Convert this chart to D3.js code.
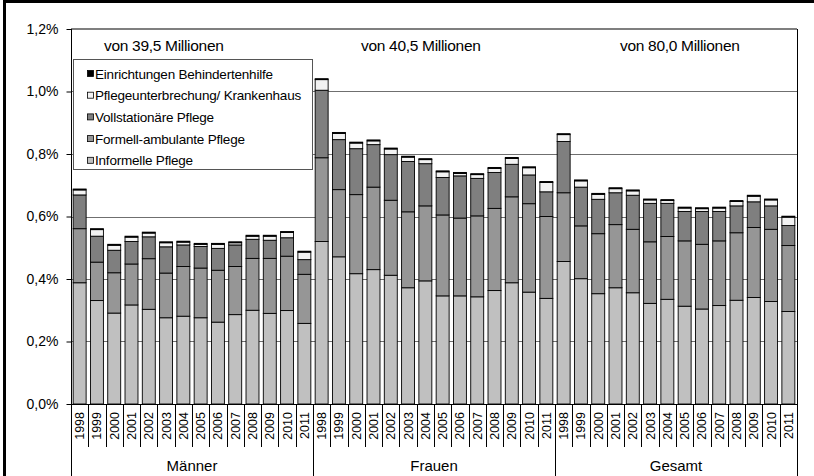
<!DOCTYPE html>
<html lang="de">
<head>
  <meta charset="UTF-8">
  <title>Pflegequote</title>
  <script src="https://d3js.org/d3.v7.min.js"></script>
  <style>
    body { margin: 0; background: #fff; }
    text { font-family: "Liberation Sans", Arial, sans-serif; fill: #000; }
    .grid line { stroke: #6f6f6f; stroke-width: 1; }
    .seg { stroke: #000; stroke-width: 0.9; }
  </style>
</head>
<body>
  <div id="chart"></div>
  <script>
    const groups = ["Männer", "Frauen", "Gesamt"];
    const groupTotals = ["von 39,5 Millionen", "von 40,5 Millionen", "von 80,0 Millionen"];
    const years = ["1998", "1999", "2000", "2001", "2002", "2003", "2004", "2005", "2006", "2007", "2008", "2009", "2010", "2011"];
    const yTicks = [0, 0.2, 0.4, 0.6, 0.8, 1.0, 1.2];

    // values in %, per group 14 years (Männer, Frauen, Gesamt)
    const informell = [
      0.388, 0.331, 0.291, 0.317, 0.303, 0.276, 0.281, 0.276, 0.262, 0.286, 0.300, 0.290, 0.299, 0.258,
      0.520, 0.471, 0.417, 0.430, 0.412, 0.372, 0.394, 0.346, 0.346, 0.343, 0.363, 0.388, 0.358, 0.338,
      0.456, 0.401, 0.353, 0.372, 0.356, 0.322, 0.335, 0.313, 0.304, 0.315, 0.332, 0.341, 0.328, 0.296
    ];
    const formell = [
      0.173, 0.123, 0.129, 0.131, 0.162, 0.143, 0.159, 0.159, 0.166, 0.154, 0.166, 0.176, 0.174, 0.157,
      0.268, 0.215, 0.253, 0.264, 0.240, 0.243, 0.240, 0.259, 0.249, 0.259, 0.263, 0.275, 0.283, 0.262,
      0.220, 0.169, 0.192, 0.202, 0.203, 0.197, 0.201, 0.209, 0.207, 0.207, 0.216, 0.224, 0.231, 0.211
    ];
    const vollstationaer = [
      0.108, 0.083, 0.072, 0.072, 0.070, 0.084, 0.069, 0.069, 0.070, 0.069, 0.061, 0.058, 0.059, 0.047,
      0.216, 0.160, 0.147, 0.136, 0.146, 0.161, 0.135, 0.120, 0.135, 0.120, 0.115, 0.104, 0.092, 0.079,
      0.164, 0.124, 0.110, 0.102, 0.109, 0.123, 0.106, 0.094, 0.105, 0.094, 0.086, 0.082, 0.075, 0.064
    ];
    const unterbrechung = [
      0.016, 0.021, 0.016, 0.014, 0.012, 0.013, 0.009, 0.007, 0.013, 0.007, 0.010, 0.013, 0.017, 0.024,
      0.034, 0.020, 0.018, 0.012, 0.018, 0.014, 0.013, 0.018, 0.008, 0.012, 0.013, 0.019, 0.023, 0.030,
      0.022, 0.020, 0.016, 0.013, 0.014, 0.011, 0.009, 0.011, 0.009, 0.011, 0.014, 0.018, 0.019, 0.027
    ];
    const behindertenhilfe = [
      0.003, 0.003, 0.003, 0.003, 0.003, 0.003, 0.003, 0.003, 0.003, 0.003, 0.003, 0.003, 0.003, 0.003,
      0.003, 0.003, 0.003, 0.003, 0.003, 0.003, 0.003, 0.003, 0.003, 0.003, 0.003, 0.003, 0.003, 0.003,
      0.003, 0.003, 0.003, 0.003, 0.003, 0.003, 0.003, 0.003, 0.003, 0.003, 0.003, 0.003, 0.003, 0.003
    ];

    const series = [
      { name: "Informelle Pflege", values: informell, color: "#c0c0c0" },
      { name: "Formell-ambulante Pflege", values: formell, color: "#969696" },
      { name: "Vollstationäre Pflege", values: vollstationaer, color: "#7f7f7f" },
      { name: "Pflegeunterbrechung/ Krankenhaus", values: unterbrechung, color: "#f2f2f2" },
      { name: "Einrichtungen  Behindertenhilfe", values: behindertenhilfe, color: "#000000" }
    ];

    const W = 814, H = 476;
    const plotLeft = 71, plotRight = 797, plotTop = 29, plotBottom = 404;

    const svg = d3.select("#chart").append("svg")
      .attr("width", W).attr("height", H);

    // build rows
    const keys = [];
    groups.forEach(g => years.forEach(y => keys.push(g + "|" + y)));
    const rows = keys.map((k, i) => {
      const r = { key: k, year: k.split("|")[1] };
      series.forEach((s, j) => r["s" + j] = s.values[i]);
      return r;
    });

    const x = d3.scaleBand().domain(keys).range([plotLeft, plotRight])
      .paddingInner(0.25).paddingOuter(0.125);
    const y = d3.scaleLinear().domain([0, 1.2]).range([plotBottom, plotTop]);

    // grid
    svg.append("g").attr("class", "grid")
      .selectAll("line").data(yTicks.filter(t => t > 0 && t < 1.2)).join("line")
      .attr("x1", plotLeft).attr("x2", plotRight)
      .attr("y1", d => Math.round(y(d)) + 0.5).attr("y2", d => Math.round(y(d)) + 0.5);

    // plot border top/right
    svg.append("line").attr("x1", plotLeft).attr("x2", plotRight)
      .attr("y1", y(1.2)).attr("y2", y(1.2))
      .attr("stroke", "#555").attr("stroke-width", 1.5);
    svg.append("line").attr("x1", plotRight + 0.5).attr("x2", plotRight + 0.5)
      .attr("y1", y(1.2)).attr("y2", plotBottom)
      .attr("stroke", "#000").attr("stroke-width", 1);

    // stacked bars
    const stack = d3.stack().keys(series.map((s, j) => "s" + j));
    const stacked = stack(rows);
    svg.append("g").selectAll("g").data(stacked).join("g")
      .attr("fill", (d, j) => series[j].color)
      .selectAll("rect").data(d => d).join("rect")
      .attr("class", "seg")
      .attr("x", d => x(d.data.key))
      .attr("width", x.bandwidth())
      .attr("y", d => y(d[1]))
      .attr("height", d => y(d[0]) - y(d[1]));

    // y axis
    const yAxis = svg.append("g").attr("transform", `translate(${plotLeft + 0.5},0)`)
      .call(d3.axisLeft(y).tickValues(yTicks).tickSize(5).tickSizeOuter(0)
        .tickFormat(d => d3.format(".1f")(d).replace(".", ",") + "%"));
    yAxis.select(".domain").remove();
    yAxis.selectAll(".tick line").attr("stroke", "#000");
    yAxis.selectAll("text").attr("font-size", 14).attr("x", -13)
      .style("font-family", "Liberation Sans, Arial, sans-serif");
    svg.append("line").attr("x1", plotLeft + 0.5).attr("x2", plotLeft + 0.5)
      .attr("y1", plotTop).attr("y2", H).attr("stroke", "#000");

    // x axis line
    svg.append("line").attr("x1", plotLeft).attr("x2", plotRight)
      .attr("y1", plotBottom + 0.5).attr("y2", plotBottom + 0.5).attr("stroke", "#000");

    // year separators
    const step = x.step();
    svg.append("g").selectAll("line").data(keys).join("line")
      .attr("x1", d => Math.round(x(d) - x.paddingOuter() * step + step) + 0.5)
      .attr("x2", d => Math.round(x(d) - x.paddingOuter() * step + step) + 0.5)
      .attr("y1", plotBottom)
      .attr("y2", (d, i) => (i + 1) % years.length === 0 ? H : 447)
      .attr("stroke", "#000").attr("stroke-width", 1);

    // year labels
    svg.append("g").selectAll("text").data(rows).join("text")
      .attr("transform", d => `translate(${x(d.key) + x.bandwidth() / 2 + 4.5},412) rotate(-90)`)
      .attr("text-anchor", "end")
      .attr("font-size", 12.5)
      .text(d => d.year);

    // group labels
    groups.forEach((g, gi) => {
      const a = x(g + "|" + years[0]), b = x(g + "|" + years[years.length - 1]) + x.bandwidth();
      svg.append("text").attr("x", (a + b) / 2).attr("y", 471)
        .attr("text-anchor", "middle").attr("font-size", 15).text(g);
    });

    // header totals
    const headX = [104, 361, 620];
    groupTotals.forEach((t, i) => {
      svg.append("text").attr("x", headX[i]).attr("y", 50.5)
        .attr("font-size", 15.5).attr("letter-spacing", -0.3).text(t);
    });

    // legend
    const lg = svg.append("g").attr("transform", "translate(73.5,59.5)");
    lg.append("rect").attr("width", 239).attr("height", 110)
      .attr("fill", "#fff").attr("stroke", "#555").attr("stroke-width", 1);
    series.slice().reverse().forEach((s, i) => {
      const yy = 14 + i * 21.7;
      lg.append("rect").attr("x", 14).attr("y", yy - 3).attr("width", 6).attr("height", 6)
        .attr("fill", s.color).attr("stroke", "#000").attr("stroke-width", 0.8);
      lg.append("text").attr("x", 21.5).attr("y", yy + 5)
        .attr("font-size", 13.5).attr("letter-spacing", -0.2).text(s.name);
    });

    // outer frame
    svg.append("path").attr("d", `M4.5,${H} V1.5 H${W}`)
      .attr("fill", "none").attr("stroke", "#000").attr("stroke-width", 3);
  </script>
</body>
</html>
